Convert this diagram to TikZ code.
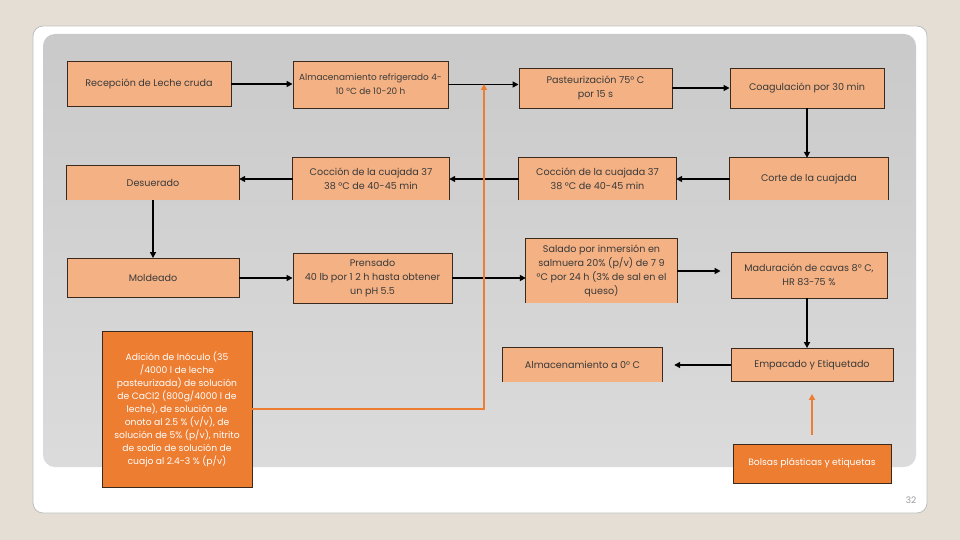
\documentclass[tikz,border=0pt]{standalone}
\usepackage{fontspec}
\setmainfont{Poppins}
\usetikzlibrary{arrows.meta}
\definecolor{bgbeige}{HTML}{E4DED4}
\definecolor{boxfill}{HTML}{F4B183}
\definecolor{boxline}{HTML}{3A2A1E}
\definecolor{orng}{HTML}{ED7D31}
\definecolor{txt}{HTML}{3A3A3A}
\definecolor{pgray}{HTML}{9A9A9A}
\tikzset{
  pbox/.style={draw=boxline, line width=0.9pt, fill=boxfill, text=txt, align=center,
    inner sep=2pt, font=\fontsize{9.6}{14}\selectfont},
  obox/.style={fill=boxfill, text=txt, align=center, inner sep=2pt,
    font=\fontsize{9.6}{14}\selectfont},
  orbox/.style={draw=boxline, line width=0.9pt, fill=orng, text=white, align=center,
    inner sep=2pt, font=\fontsize{9.2}{13}\selectfont},
  arr/.style={line width=1.8pt, -{Triangle[length=6pt,width=6pt]}},
  oarr/.style={draw=orng, line width=1.5pt, -{Triangle[length=6pt,width=6pt]}},
}
\newcommand{\openedge}[1]{\draw[boxline, line width=0.9pt] (#1.south west) -- (#1.north west) -- (#1.north east) -- (#1.south east);}
\begin{document}
\begin{tikzpicture}[x=1pt,y=-1pt]
\useasboundingbox (0,0) rectangle (960,540);
\fill[bgbeige] (0,0) rectangle (960,540);
\draw[fill=white, draw=black!25, line width=0.8pt, rounded corners=10pt] (33,26) rectangle (927,513);
\shade[top color=black!21, bottom color=black!14, rounded corners=12pt] (43,34) rectangle (916,467);
% row 1
\node[pbox, minimum width=164pt, minimum height=45pt] (rec) at (149,84) {Recepción de Leche cruda};
\node[pbox, minimum width=155pt, minimum height=47pt, font=\fontsize{8.9}{14}\selectfont] (alm) at (370.5,84.5) {Almacenamiento refrigerado 4-\\10 °C de 10-20 h};
\node[pbox, minimum width=153pt, minimum height=40pt] (pas) at (595.5,88) {Pasteurización 75° C\\por 15 s};
\node[pbox, minimum width=154pt, minimum height=40pt] (coa) at (807,88) {Coagulación por 30 min};
% row 2
\node[obox, minimum width=172pt, minimum height=34pt] (des) at (153,183) {Desuerado};
\node[obox, minimum width=156pt, minimum height=42pt] (coc1) at (371,179) {Cocción de la cuajada 37\\38 °C de 40-45 min};
\node[obox, minimum width=157pt, minimum height=42pt] (coc2) at (597.5,179) {Cocción de la cuajada 37\\38 °C de 40-45 min};
\node[obox, minimum width=158pt, minimum height=42pt] (cor) at (809,179) {Corte de la cuajada};
\openedge{des}\openedge{coc1}\openedge{coc2}\openedge{cor}
% row 3
\node[pbox, minimum width=172pt, minimum height=39pt] (mol) at (153,278) {Moldeado};
\node[pbox, minimum width=159pt, minimum height=50pt] (pre) at (372.5,278) {Prensado\\40 lb por 1 2 h hasta obtener\\un pH 5.5};
\node[obox, minimum width=151pt, minimum height=64pt] (sal) at (601.5,271) {Salado por inmersión en\\salmuera 20\% (p/v) de 7 9\\°C por 24 h (3\% de sal en el\\queso)};
\openedge{sal}
\node[pbox, minimum width=156pt, minimum height=46pt] (mad) at (809,275) {Maduración de cavas 8° C,\\HR 83-75 \%};
% row 4
\node[obox, minimum width=159pt, minimum height=34pt] (a0) at (582.5,365) {Almacenamiento a 0° C};
\openedge{a0}
\node[pbox, minimum width=162pt, minimum height=33pt] (emp) at (812,365) {Empacado y Etiquetado};
\node[orbox, minimum width=158pt, minimum height=39pt] (bol) at (812,463.5) {Bolsas plásticas y etiquetas};
\node[orbox, minimum width=150pt, minimum height=156pt] (adi) at (177,409) {Adición de Inóculo (35\\/4000 l de leche\\pasteurizada) de solución\\de CaCl2 (800g/4000 l de\\leche), de solución de\\onoto al 2.5 \% (v/v), de\\solución de 5\% (p/v), nitrito\\de sodio de solución de\\cuajo al 2.4-3 \% (p/v)};
\coordinate (otop) at (484,84);
% connectors
\draw[arr] (rec.east) -- (rec.east -| alm.west);
\draw[arr] (alm.east) -- (alm.east -| pas.west);
\draw[arr] (pas.east) -- (coa.west);
\draw[arr] (coa.south) -- (coa.south |- cor.north);
\draw[arr] (cor.west) -- (cor.west -| coc2.east);
\draw[arr] (coc2.west) -- (coc2.west -| coc1.east);
\draw[arr] (coc1.west) -- (coc1.west -| des.east);
\draw[arr] (des.south) -- (mol.north);
\draw[arr] (mol.east) -- (mol.east -| pre.west);
\draw[arr] (pre.east) -- (pre.east -| sal.west);
\draw[arr, shorten >=10pt] (sal.east) -- (sal.east -| mad.west);
\draw[arr] (mad.south -| emp.north) ++(-5,0) coordinate (mds) (mds) -- (mds |- emp.north);
\draw[arr, shorten >=12pt] (emp.west) -- (emp.west -| a0.east);
\draw[oarr, shorten >=12pt, shorten <=9pt] (bol.north) -- (emp.south);
\draw[oarr] (adi.east) -| (otop);
\node[text=pgray, font=\fontsize{9}{10}\selectfont] (pnum) at (911,500) {32};
\end{tikzpicture}
\end{document}
